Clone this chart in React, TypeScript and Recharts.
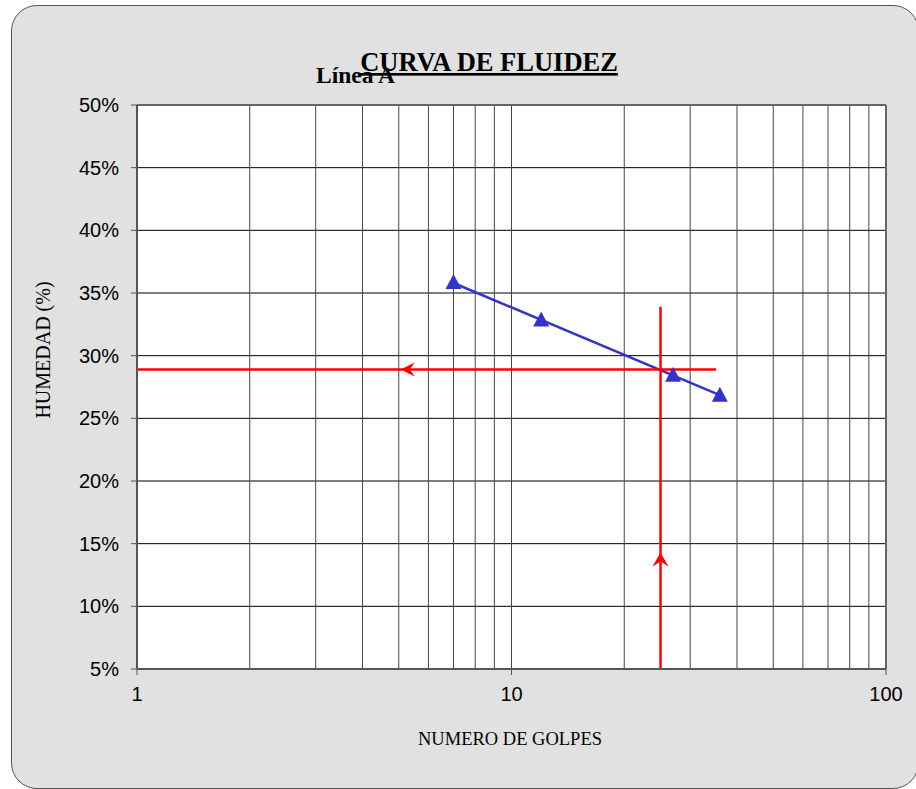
import React from 'react';
import {
  ComposedChart,
  Line,
  Scatter,
  XAxis,
  YAxis,
  CartesianGrid,
  ReferenceLine,
} from 'recharts';

// Ensayo de límite líquido: número de golpes vs. humedad
const golpes = [7, 12, 27, 36];
const humedad = [35.8, 32.8, 28.4, 26.8];

// Recta de fluidez (extremos)
const tendenciaGolpes = [7, 36];
const tendenciaHumedad = [35.8, 26.85];

// Lectura del límite líquido a 25 golpes
const golpesLL = 25;
const limiteLiquido = 28.9;
const guiaHorizontalFin = 35.2;
const guiaVerticalFin = 33.9;
const flechaIzqGolpes = 5.06;
const flechaArribaHumedad = 14.3;

const xTicks = [1, 10, 100];
const xMinor = [2, 3, 4, 5, 6, 7, 8, 9, 10, 20, 30, 40, 50, 60, 70, 80, 90];
const yTicks = [5, 10, 15, 20, 25, 30, 35, 40, 45, 50];

const puntos = golpes.map((g, i) => ({ x: g, y: humedad[i] }));
const tendencia = tendenciaGolpes.map((g, i) => ({ x: g, y: tendenciaHumedad[i] }));
const guiaH = [
  { x: 1, y: limiteLiquido },
  { x: guiaHorizontalFin, y: limiteLiquido },
];
const guiaV = [
  { x: golpesLL, y: 5 },
  { x: golpesLL, y: guiaVerticalFin },
];
const flechaIzq = [{ x: flechaIzqGolpes, y: limiteLiquido }];
const flechaArriba = [{ x: golpesLL, y: flechaArribaHumedad }];

const AZUL = '#3333cc';
const ROJO = '#ff0000';

const Triangulo = (props: any) => {
  const { cx, cy } = props;
  if (cx == null || cy == null) return null;
  return (
    <polygon
      points={`${cx},${cy - 9} ${cx - 8},${cy + 6} ${cx + 8},${cy + 6}`}
      fill={AZUL}
    />
  );
};

const PuntaIzq = (props: any) => {
  const { cx, cy } = props;
  if (cx == null || cy == null) return null;
  return (
    <polygon
      points={`${cx},${cy} ${cx + 14},${cy - 7} ${cx + 9},${cy} ${cx + 14},${cy + 7}`}
      fill={ROJO}
    />
  );
};

const PuntaArriba = (props: any) => {
  const { cx, cy } = props;
  if (cx == null || cy == null) return null;
  return (
    <polygon
      points={`${cx},${cy} ${cx - 8},${cy + 14} ${cx},${cy + 9} ${cx + 8},${cy + 14}`}
      fill={ROJO}
    />
  );
};

const tickStyle = { fontFamily: '"Liberation Sans", Arial, sans-serif', fontSize: 20, fill: '#000' };

export default function App() {
  return (
    <div style={{ position: 'absolute', left: 0, top: 0, width: 916, height: 789, overflow: 'hidden' }}>
      <div
        style={{
          position: 'absolute',
          left: 11,
          top: 5,
          width: 906,
          height: 782,
          background: '#e1e1e1',
          border: '1.5px solid #555',
          borderRadius: 26,
        }}
      />
      <div style={{ position: 'absolute', left: 0, top: 0 }}>
        <ComposedChart
          width={916}
          height={789}
          margin={{ top: 105, right: 30, bottom: 90, left: 77 }}
        >
          <CartesianGrid horizontal vertical={false} stroke="#000" strokeOpacity={1} fill="#ffffff" />
          <XAxis
            type="number"
            dataKey="x"
            scale="log"
            domain={[1, 100]}
            ticks={xTicks}
            allowDataOverflow
            height={30}
            tick={tickStyle}
            tickSize={6}
            tickMargin={12}
            axisLine={{ stroke: '#555', strokeWidth: 2 }}
            tickLine={{ stroke: '#555' }}
          />
          <YAxis
            type="number"
            dataKey="y"
            domain={[5, 50]}
            ticks={yTicks}
            allowDataOverflow
            width={60}
            tick={tickStyle}
            tickSize={6}
            tickMargin={12}
            tickFormatter={(v: number) => `${v}%`}
            axisLine={{ stroke: '#555', strokeWidth: 2 }}
            tickLine={{ stroke: '#555' }}
          />
          {xMinor.map((v) => (
            <ReferenceLine key={v} x={v} stroke="#444" strokeWidth={1} />
          ))}
          <ReferenceLine y={50} stroke="#666" strokeWidth={2} />
          <ReferenceLine x={100} stroke="#666" strokeWidth={2} />
          <Line
            data={tendencia}
            dataKey="y"
            stroke={AZUL}
            strokeWidth={2.5}
            dot={false}
            activeDot={false}
            isAnimationActive={false}
          />
          <Line
            data={guiaH}
            dataKey="y"
            stroke={ROJO}
            strokeWidth={2.5}
            dot={false}
            activeDot={false}
            isAnimationActive={false}
          />
          <Line
            data={guiaV}
            dataKey="y"
            stroke={ROJO}
            strokeWidth={2.5}
            dot={false}
            activeDot={false}
            isAnimationActive={false}
          />
          <Scatter data={flechaIzq} dataKey="y" shape={PuntaIzq} isAnimationActive={false} />
          <Scatter data={flechaArriba} dataKey="y" shape={PuntaArriba} isAnimationActive={false} />
          <Scatter data={puntos} dataKey="y" shape={Triangulo} isAnimationActive={false} />
        </ComposedChart>
      </div>
      <svg
        width={916}
        height={789}
        style={{ position: 'absolute', left: 0, top: 0, pointerEvents: 'none' }}
      >
        <text
          x={489}
          y={71}
          textAnchor="middle"
          fontFamily='"Liberation Serif", "Times New Roman", serif'
          fontWeight="bold"
          fontSize={26.5}
          textDecoration="underline"
          fill="#000"
        >
          CURVA DE FLUIDEZ
        </text>
        <text
          x={316}
          y={83}
          fontFamily='"Liberation Serif", "Times New Roman", serif'
          fontWeight="bold"
          fontSize={23.5}
          fill="#000"
        >
          Línea A
        </text>
        <text
          x={510}
          y={745}
          textAnchor="middle"
          fontFamily='"Liberation Serif", "Times New Roman", serif'
          fontSize={18.5}
          fill="#000"
        >
          NUMERO DE GOLPES
        </text>
        <text
          x={50}
          y={350}
          textAnchor="middle"
          transform="rotate(-90 50 350)"
          fontFamily='"Liberation Serif", "Times New Roman", serif'
          fontSize={20}
          fill="#000"
        >
          HUMEDAD (%)
        </text>
      </svg>
    </div>
  );
}
